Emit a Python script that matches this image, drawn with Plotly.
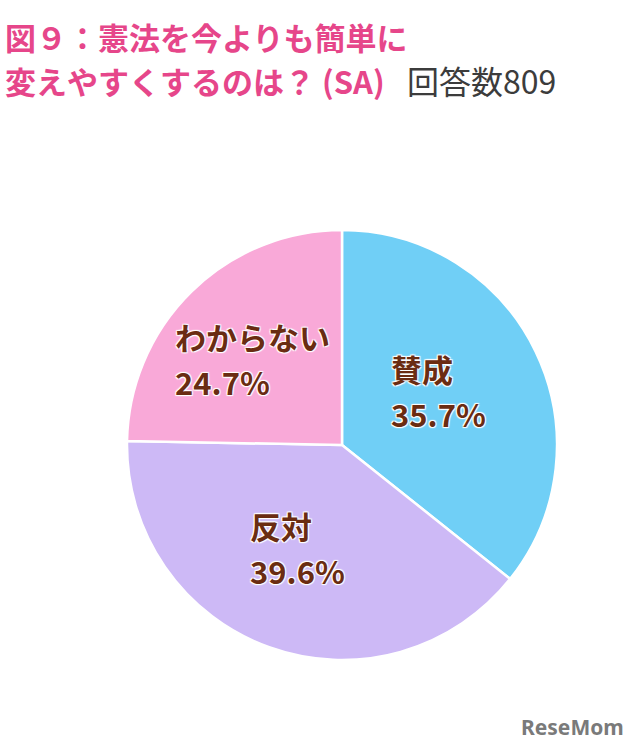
import math
import plotly.graph_objects as go

# ---- data ----
categories = ["賛成", "反対", "わからない"]
values = [35.7, 39.6, 24.7]
colors = ["#70cff6", "#cdb9f6", "#f9a9d8"]
title_line1 = "図９：憲法を今よりも簡単に"
title_line2 = "変えやすくするのは？ (SA)"
title_count = "回答数809"
watermark = "ReseMom"

W, H = 640, 752
# pie placement in pixels
PX0, PX1 = 127, 557
PY0, PY1 = 230, 660
cx = (PX0 + PX1) / 2
cy = (PY0 + PY1) / 2
R = (PX1 - PX0) / 2

fig = go.Figure()
fig.add_trace(go.Pie(
    labels=categories,
    values=values,
    sort=False,
    direction="clockwise",
    rotation=0,
    marker=dict(colors=colors, line=dict(color="white", width=2.5)),
    textinfo="none",
    hoverinfo="label+percent",
    showlegend=False,
    domain=dict(x=[PX0 / W, PX1 / W], y=[1 - PY1 / H, 1 - PY0 / H]),
))

FS = 31


def text_width(s, fs):
    w = 0.0
    for ch in s:
        if ch.isdigit():
            w += 0.57 * fs
        elif ch == ".":
            w += 0.27 * fs
        elif ch == "%":
            w += 0.85 * fs
        else:
            w += 1.0 * fs
    return w


annotations = []
total = sum(values)
cum = 0.0
label_font = dict(family="Noto Sans CJK JP", size=FS, color="#6a2c12", weight="bold",
                  shadow="1px 1px 1px white, -1px -1px 1px white, 1px -1px 1px white, -1px 1px 1px white")
for cat, v in zip(categories, values):
    mid = (cum + v / 2) / total * 2 * math.pi
    cum += v
    r = 0.53 * R
    px = cx + r * math.sin(mid)
    py = cy - r * math.cos(mid) - 4
    pct = f"{v}%"
    bw = max(text_width(cat, FS), text_width(pct, FS))
    left = px - bw / 2 - 12
    for txt, dy in ((cat, -23), (pct, 22)):
        annotations.append(dict(
            x=left / W, y=1 - (py + dy) / H, xref="paper", yref="paper",
            text=txt, showarrow=False, align="left",
            xanchor="left", yanchor="middle", font=label_font,
        ))

pink = "#e6468a"
annotations.append(dict(
    x=3 / W, y=1 - 37 / H, xref="paper", yref="paper", xanchor="left", yanchor="middle",
    text=title_line1, showarrow=False,
    font=dict(family="Noto Sans CJK JP", size=31, color=pink, weight="bold"),
))
annotations.append(dict(
    x=3 / W, y=1 - 80 / H, xref="paper", yref="paper", xanchor="left", yanchor="middle",
    text=(f"{title_line2}<span style='color:#3c3c3c;font-weight:normal;font-size:32px'>"
          f"\u2002\u2009{title_count}</span>"),
    showarrow=False,
    font=dict(family="Noto Sans CJK JP", size=31, color=pink, weight="bold"),
))
annotations.append(dict(
    x=626 / W, y=1 - 727 / H, xref="paper", yref="paper", xanchor="right", yanchor="middle",
    text=watermark, showarrow=False,
    font=dict(family="Noto Sans", size=21, color="#7a7a7a", weight="bold"),
))

fig.update_layout(
    width=W, height=H,
    margin=dict(l=0, r=0, t=0, b=0),
    paper_bgcolor="white", plot_bgcolor="white",
    annotations=annotations,
)

fig.write_html("out.html", config={"displayModeBar": False},
               post_script="document.body.style.margin='0';")
